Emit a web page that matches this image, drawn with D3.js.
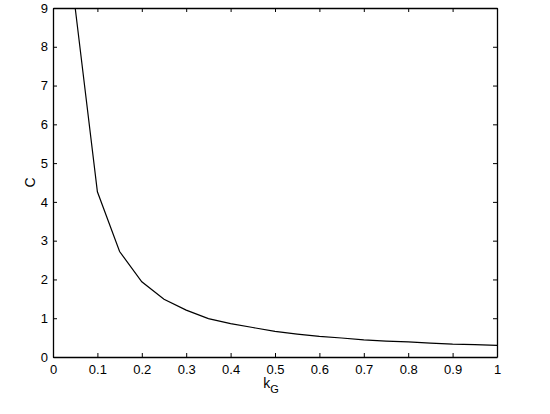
<!DOCTYPE html>
<html>
<head>
<script src="https://cdn.jsdelivr.net/npm/d3@7"></script>
<style>
  body { margin: 0; background: #fff; }
  text { font-family: "Liberation Sans", Arial, sans-serif; }
</style>
</head>
<body>
<div id="chart"></div>
<script>
// values
var kG = [0.05, 0.1, 0.15, 0.2, 0.25, 0.3, 0.35, 0.4, 0.45, 0.5, 0.55, 0.6, 0.65, 0.7, 0.75, 0.8, 0.85, 0.9, 0.95, 1.0];
var C  = [9.0, 4.26, 2.72, 1.94, 1.49, 1.21, 0.99, 0.86, 0.76, 0.66, 0.59, 0.53, 0.49, 0.44, 0.41, 0.39, 0.36, 0.33, 0.32, 0.30];
var xTicks = [0, 0.1, 0.2, 0.3, 0.4, 0.5, 0.6, 0.7, 0.8, 0.9, 1];
var yTicks = [0, 1, 2, 3, 4, 5, 6, 7, 8, 9];

var W = 550, H = 414;
var m = {left: 53, right: 53, top: 8, bottom: 57};
var w = W - m.left - m.right, h = H - m.top - m.bottom;

var svg = d3.select("#chart").append("svg").attr("width", W).attr("height", H);
var g = svg.append("g").attr("transform", "translate(" + m.left + "," + m.top + ")");

var x = d3.scaleLinear().domain([0, 1]).range([0, w]);
var y = d3.scaleLinear().domain([0, 9]).range([h, 0]);

// axes with inward ticks on all four sides
var fmt = function (d) { return d3.format("")(d); };
g.append("g").attr("transform", "translate(0," + h + ")")
  .call(d3.axisBottom(x).tickValues(xTicks).tickFormat(fmt).tickSizeInner(-4).tickSizeOuter(0).tickPadding(8));
g.append("g")
  .call(d3.axisTop(x).tickValues(xTicks).tickFormat("").tickSizeInner(-4).tickSizeOuter(0));
g.append("g")
  .call(d3.axisLeft(y).tickValues(yTicks).tickFormat(fmt).tickSizeInner(-4).tickSizeOuter(0).tickPadding(5));
g.append("g").attr("transform", "translate(" + w + ",0)")
  .call(d3.axisRight(y).tickValues(yTicks).tickFormat("").tickSizeInner(-4).tickSizeOuter(0));

g.selectAll(".domain").attr("stroke", "#000").attr("stroke-width", 1.3);
g.selectAll(".tick line").attr("stroke", "#000");
g.selectAll(".tick text").attr("font-size", 13).attr("fill", "#000")
  .attr("font-family", "'Liberation Sans', Arial, sans-serif");

var line = d3.line().x(function (d, i) { return x(kG[i]); }).y(function (d) { return y(d); });
g.append("path").datum(C).attr("d", line)
  .attr("fill", "none").attr("stroke", "#000").attr("stroke-width", 1.2);

// axis labels
var xl = svg.append("text").attr("x", m.left + w / 2 - 4).attr("y", 388)
  .attr("text-anchor", "middle").attr("font-size", 14);
xl.append("tspan").text("k");
xl.append("tspan").attr("dy", 5).attr("font-size", 11).text("G");

svg.append("text").attr("transform", "translate(35," + (m.top + h / 2) + ") rotate(-90)")
  .attr("text-anchor", "middle").attr("font-size", 14).text("C");
</script>
</body>
</html>
